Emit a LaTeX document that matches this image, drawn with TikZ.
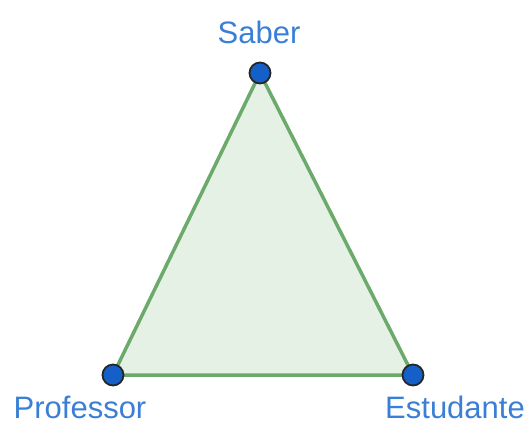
\documentclass[tikz,border=0pt]{standalone}
\usepackage{fontspec}
\setmainfont{Liberation Sans}
\definecolor{lblblue}{HTML}{3A7FD5}
\definecolor{dotblue}{HTML}{1560C8}
\definecolor{edgegreen}{HTML}{6BAA6B}
\definecolor{facegreen}{HTML}{E6F1E6}
\begin{document}
\begin{tikzpicture}[x=1bp,y=-1bp,
  vertex/.style={circle,draw=black!85,fill=dotblue,line width=1.8bp,minimum size=21bp,inner sep=0pt},
  lbl/.style={text=lblblue,font=\fontsize{31bp}{35bp}\selectfont,anchor=base,inner sep=0pt}]
\useasboundingbox (0,0) rectangle (530,426);
\coordinate (S) at (260,73);
\coordinate (P) at (113,375);
\coordinate (E) at (413,375);
\filldraw[draw=edgegreen,fill=facegreen,line width=3.5bp,line join=round] (S) -- (P) -- (E) -- cycle;
\node[vertex] (vs) at (S) {};
\node[vertex] (vp) at (P) {};
\node[vertex] (ve) at (E) {};
\node[lbl] (ls) at (259,43) {Saber};
\node[lbl] (lp) at (80,418) {Professor};
\node[lbl] (le) at (455,418) {Estudante};
\end{tikzpicture}
\end{document}
